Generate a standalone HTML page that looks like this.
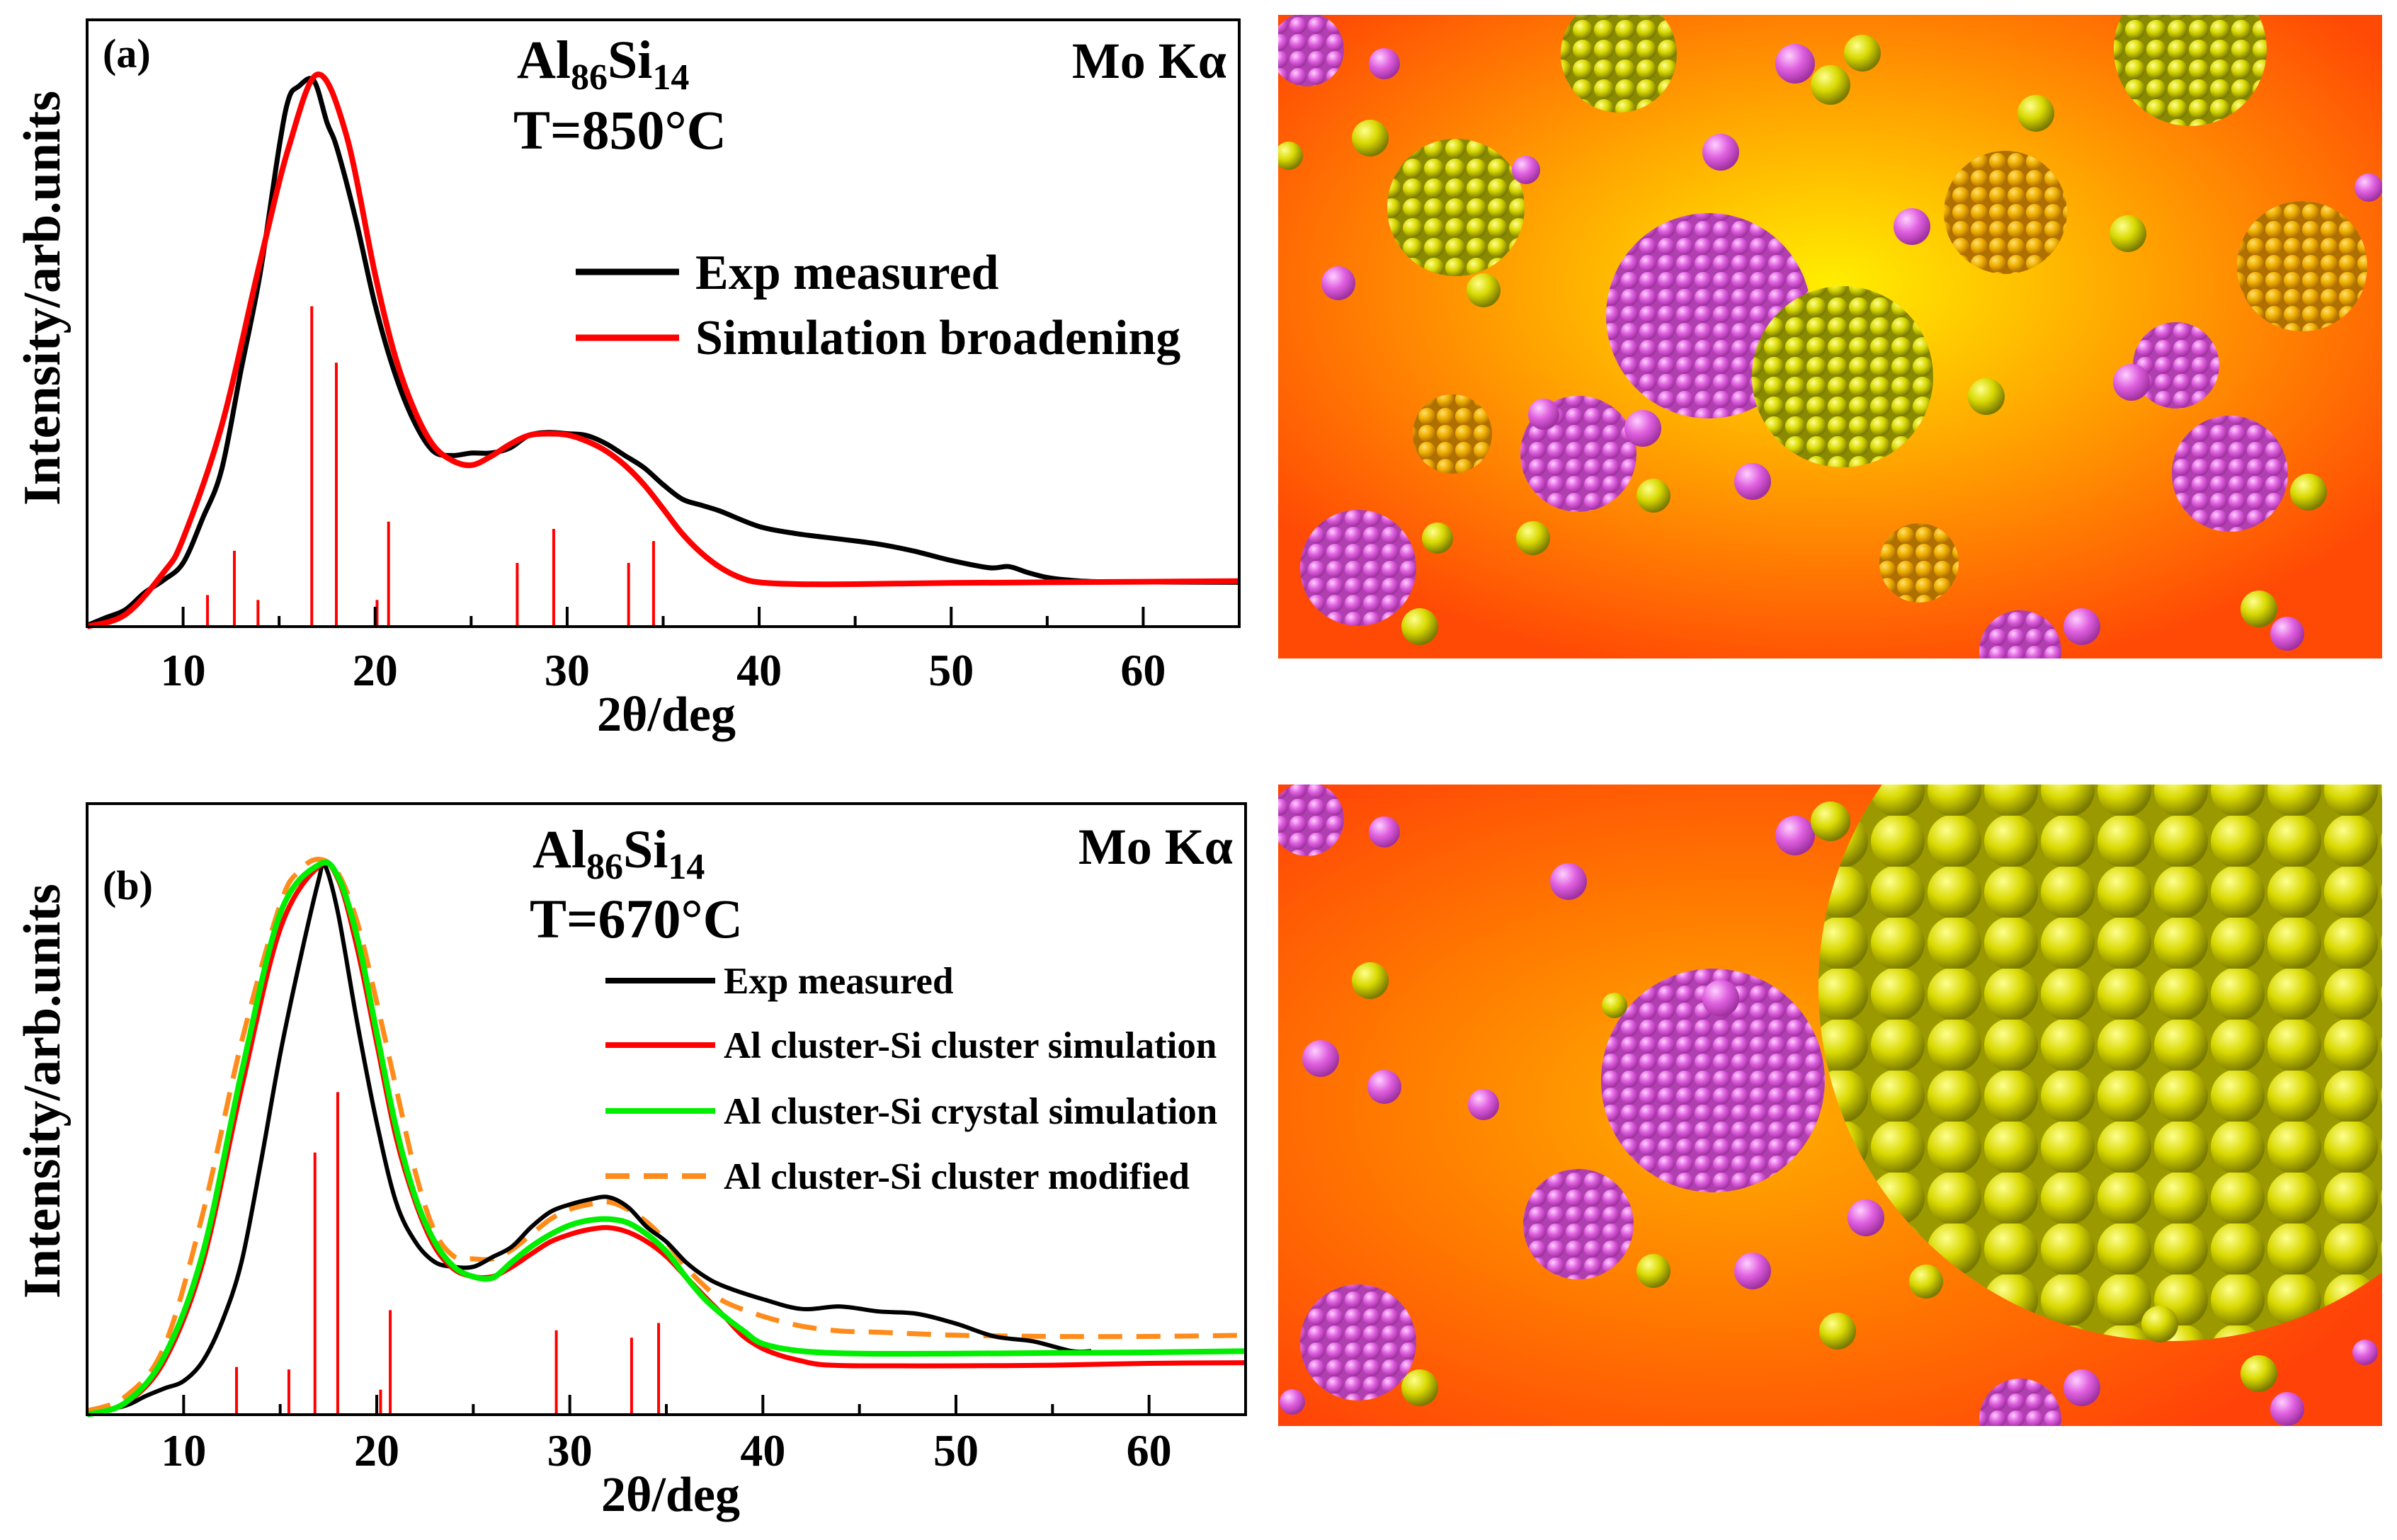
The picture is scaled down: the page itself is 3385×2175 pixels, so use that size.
<!DOCTYPE html>
<html><head><meta charset="utf-8"><style>
html,body{margin:0;padding:0;background:#fff;}
svg{display:block;font-family:"Liberation Serif",serif;font-weight:bold;}
</style></head><body>
<svg id="root" width="3385" height="2175" viewBox="0 0 3385 2175" xmlns="http://www.w3.org/2000/svg">
<defs>
<radialGradient id="bgA" cx="0.5" cy="0.42" r="0.62"><stop offset="0" stop-color="#ffee00"/><stop offset="0.45" stop-color="#ffa500"/><stop offset="1" stop-color="#ff4a05"/></radialGradient>
<radialGradient id="bgB" cx="0.42" cy="0.5" r="0.65"><stop offset="0" stop-color="#ffb000"/><stop offset="0.5" stop-color="#ff7a00"/><stop offset="1" stop-color="#ff4208"/></radialGradient>
<radialGradient id="gP" cx="0.35" cy="0.3" r="0.7"><stop offset="0" stop-color="#ffd0ff"/><stop offset="0.5" stop-color="#e060e0"/><stop offset="1" stop-color="#a030a0"/></radialGradient>
<radialGradient id="gY" cx="0.35" cy="0.3" r="0.7"><stop offset="0" stop-color="#ffff90"/><stop offset="0.5" stop-color="#d8d800"/><stop offset="1" stop-color="#7a7a00"/></radialGradient>
<radialGradient id="gG" cx="0.35" cy="0.3" r="0.7"><stop offset="0" stop-color="#ffe070"/><stop offset="0.5" stop-color="#f0b000"/><stop offset="1" stop-color="#b07000"/></radialGradient>
<pattern id="pP" width="26" height="24" patternUnits="userSpaceOnUse"><rect width="26" height="24" fill="#b040b0"/><circle cx="13" cy="12" r="12" fill="url(#gP)"/></pattern>
<pattern id="pY" width="30" height="28" patternUnits="userSpaceOnUse"><rect width="30" height="28" fill="#8a8a00"/><circle cx="15" cy="14" r="14" fill="url(#gY)"/></pattern>
<pattern id="pG" width="26" height="24" patternUnits="userSpaceOnUse"><rect width="26" height="24" fill="#b07000"/><circle cx="13" cy="12" r="12" fill="url(#gG)"/></pattern>
<pattern id="pBig" width="80" height="72" patternUnits="userSpaceOnUse"><rect width="80" height="72" fill="#9a9a00"/><circle cx="40" cy="36" r="38" fill="url(#gY)"/></pattern>
<clipPath id="clipA"><rect x="1805" y="21" width="1559" height="909"/></clipPath>
<clipPath id="clipB"><rect x="1805" y="1108" width="1559" height="906"/></clipPath>
</defs>
<g id="imgA" clip-path="url(#clipA)"><rect x="1805" y="21" width="1559" height="909" fill="url(#bgA)"/></g>
<g id="imgB" clip-path="url(#clipB)"><rect x="1805" y="1108" width="1559" height="906" fill="url(#bgB)"/></g>
<g id="chartA"></g>
<g id="chartB"></g>
</svg>
<script>
const NS="http://www.w3.org/2000/svg";
// ---- Panel (a) data ----
const aRedX=[5,7,9,10,12,14,15.5,17,18.5,20,21,22,23,24,25,26,27,28,29,30,31,32,33,34,35,36,37,38,39,40,42,45,50,55,60,65];
const aRedY=[0,0.02,0.09,0.145,0.33,0.6,0.79,0.91,0.81,0.58,0.45,0.36,0.30,0.274,0.266,0.28,0.30,0.315,0.318,0.316,0.306,0.29,0.266,0.234,0.194,0.153,0.121,0.097,0.081,0.073,0.07,0.07,0.072,0.073,0.074,0.075];
const aBlkX=[5,6,7,8,9,10,11,12,13,14,15,15.5,16,16.8,17.5,18,19,20,21,22,23,24,25,26,27,28,29,30,31,32,33,34,35,36,37,38,40,42,44,46,48,50,52,53,54,55,56,58,65];
const aBlkY=[0.002,0.015,0.028,0.056,0.077,0.105,0.177,0.258,0.42,0.58,0.79,0.87,0.89,0.90,0.83,0.79,0.67,0.53,0.42,0.34,0.29,0.282,0.286,0.286,0.294,0.315,0.32,0.318,0.315,0.302,0.282,0.262,0.234,0.21,0.2,0.19,0.165,0.153,0.145,0.137,0.125,0.109,0.097,0.099,0.089,0.081,0.077,0.074,0.073];
const aStickX=[11.27,12.67,13.9,16.7,17.98,20.1,20.7,27.4,29.3,33.2,34.5];
const aStickY=[0.052,0.125,0.044,0.528,0.435,0.044,0.173,0.105,0.161,0.105,0.141];
// ---- Panel (b) data ----
const bBlkX=[5,7,8,9,10,11,12,13,14,15,16,17,17.3,18,19,20,21,22,23,24,25,26,27,28,29,30,31,32,33,34,35,36,37,38,40,42,44,46,48,50,52,54,56,57];
const bBlkY=[0,0.015,0.03,0.043,0.055,0.088,0.153,0.25,0.413,0.59,0.74,0.876,0.9,0.82,0.64,0.478,0.348,0.283,0.25,0.242,0.242,0.258,0.275,0.307,0.332,0.344,0.352,0.356,0.34,0.307,0.283,0.25,0.226,0.21,0.189,0.173,0.177,0.169,0.165,0.149,0.128,0.12,0.104,0.104];
const bRedX=[5,7,9,11,13,15,17,18,19,20,21,22,23,24,25,26,27,28,29,30,31,32,33,34,35,36,37,38,39,40,41,42,43,45,50,55,60,65];
const bRedY=[0,0.019,0.088,0.25,0.535,0.795,0.897,0.876,0.762,0.608,0.454,0.348,0.275,0.238,0.226,0.226,0.242,0.263,0.283,0.295,0.303,0.306,0.299,0.283,0.259,0.226,0.193,0.161,0.128,0.108,0.096,0.088,0.082,0.08,0.08,0.081,0.084,0.085];
const bGrnX=[5,7,9,11,13,15,17,18,19,20,21,22,23,24,25,26,27,28,29,30,31,32,33,34,35,36,37,38,39,40,42,45,50,55,60,65];
const bGrnY=[0,0.02,0.096,0.265,0.56,0.82,0.9,0.88,0.78,0.625,0.47,0.356,0.283,0.242,0.226,0.224,0.25,0.275,0.295,0.31,0.318,0.32,0.314,0.295,0.267,0.226,0.189,0.161,0.137,0.116,0.104,0.1,0.1,0.101,0.102,0.104];
const bOrgX=[5,7,9,11,13,15,16,17,18,19,20,21,22,23,24,25,26,27,28,29,30,31,32,33,34,35,36,37,38,40,42,44,46,50,55,60,65];
const bOrgY=[0.006,0.03,0.112,0.33,0.61,0.835,0.89,0.909,0.886,0.805,0.675,0.535,0.397,0.3,0.259,0.255,0.255,0.27,0.295,0.32,0.336,0.344,0.348,0.336,0.315,0.283,0.242,0.21,0.185,0.161,0.145,0.137,0.135,0.13,0.128,0.128,0.13];
const bStickX=[12.74,15.45,16.8,17.98,20.2,20.7,29.3,33.2,34.6];
const bStickY=[0.078,0.074,0.429,0.528,0.041,0.171,0.138,0.126,0.15];
const xTicks=[10,20,30,40,50,60];
const xMinor=[15,25,35,45,55];

function el(tag,attrs,parent){const e=document.createElementNS(NS,tag);for(const k in attrs)e.setAttribute(k,attrs[k]);parent.appendChild(e);return e;}
function smooth(pts){let d="M"+pts[0][0].toFixed(1)+","+pts[0][1].toFixed(1);
 for(let i=0;i<pts.length-1;i++){const p0=pts[Math.max(0,i-1)],p1=pts[i],p2=pts[i+1],p3=pts[Math.min(pts.length-1,i+2)];
  const c1x=p1[0]+(p2[0]-p0[0])/6,c1y=p1[1]+(p2[1]-p0[1])/6,c2x=p2[0]-(p3[0]-p1[0])/6,c2y=p2[1]-(p3[1]-p1[1])/6;
  d+=" C"+c1x.toFixed(1)+","+c1y.toFixed(1)+" "+c2x.toFixed(1)+","+c2y.toFixed(1)+" "+p2[0].toFixed(1)+","+p2[1].toFixed(1);}
 return d;}

function panel(g,cfg){
 const L=cfg.left,R=cfg.right,T=cfg.top,B=cfg.bottom;
 const sx=d=>L+(d-5)*(R-L)/60, sy=v=>B-v*(B-T);
 cfg.sticksX.forEach((x,i)=>{const s=el("line",{x1:sx(x),x2:sx(x),y1:B,y2:sy(cfg.sticksY[i]),stroke:"#ff0000","stroke-width":4},g);
  
  });
 cfg.series.forEach(s=>{const pts=s.x.map((x,i)=>[sx(x),sy(s.y[i])]);
  const p=el("path",{d:smooth(pts),fill:"none",stroke:s.color,"stroke-width":s.w,"stroke-linejoin":"round"},g);
  if(s.dash)p.setAttribute("stroke-dasharray",s.dash);
  
  });
 const fr=el("rect",{x:L,y:T,width:R-L,height:B-T,fill:"none",stroke:"#000","stroke-width":4},g);
 
 
 xTicks.forEach(t=>{const tk=el("line",{x1:sx(t),x2:sx(t),y1:B,y2:B-28,stroke:"#000","stroke-width":4},g);
  
  
  const lb=el("text",{x:sx(t),y:cfg.tickY,"text-anchor":"middle","font-size":64},g);lb.textContent=t;
  
  });
 xMinor.forEach(t=>{const tk=el("line",{x1:sx(t),x2:sx(t),y1:B,y2:B-15,stroke:"#000","stroke-width":4},g);
  
  });
}
const gA=document.getElementById("chartA"),gB=document.getElementById("chartB");
panel(gA,{left:123,right:1750,top:28,bottom:885,tickY:968,sticksX:aStickX,sticksY:aStickY,series:[
 {x:aBlkX,y:aBlkY,color:"#000",w:7,name:"exp-measured-line"},
 {x:aRedX,y:aRedY,color:"#ff0000",w:8,name:"simulation-broadening-line"}]});
panel(gB,{left:123,right:1759,top:1135,bottom:1998,tickY:2070,sticksX:bStickX,sticksY:bStickY,series:[
 {x:bOrgX,y:bOrgY,color:"#ff8c1a",w:7,dash:"34,20",name:"modified-line"},
 {x:bBlkX,y:bBlkY,color:"#000",w:6,name:"exp-measured-line"},
 {x:bRedX,y:bRedY,color:"#ff0000",w:7,name:"cluster-cluster-line"},
 {x:bGrnX,y:bGrnY,color:"#00ee00",w:8,name:"cluster-crystal-line"}]});

const clustA=[[2056,293,97,"pY"],[2286,77,82,"pY"],[3093,70,108,"pY"],[3251,376,92,"pG"],[2832,300,87,"pG"],[3073,516,61,"pP"],[3149,669,82,"pP"],[2229,641,82,"pP"],[2051,613,56,"pG"],[1918,802,82,"pP"],[1846,70,52,"pP"],[2710,795,56,"pG"],[2853,920,58,"pP"],[2413,446,145,"pP"],[2602,532,128,"pY"]];
const clustB=[[3068,1394,500,"pBig"],[2419,1526,158,"pP"],[2229,1729,78,"pP"],[1918,1896,82,"pP"],[1846,1157,52,"pP"],[2853,2005,58,"pP"]];
const dotsA=[[1955,90,22,"gP"],[2155,240,20,"gP"],[1935,195,26,"gY"],[2535,90,28,"gP"],[2585,120,28,"gY"],[2630,75,26,"gY"],[2430,215,26,"gP"],[2700,320,26,"gP"],[2875,160,26,"gY"],[3005,330,26,"gY"],[2095,410,24,"gY"],[1890,400,24,"gP"],[2320,605,26,"gP"],[2335,700,24,"gY"],[2475,680,26,"gP"],[2805,560,26,"gY"],[3010,540,26,"gP"],[3260,695,26,"gY"],[2005,885,26,"gY"],[2940,885,26,"gP"],[3190,860,26,"gY"],[3230,895,24,"gP"],[1820,220,20,"gY"],[3345,265,20,"gP"],[2180,585,22,"gP"],[2030,760,22,"gY"],[2165,760,24,"gY"]];
const dotsB=[[1955,1175,22,"gP"],[2215,1245,26,"gP"],[1935,1385,26,"gY"],[2535,1180,28,"gP"],[2585,1160,28,"gY"],[2430,1410,26,"gP"],[2280,1420,18,"gY"],[1865,1495,26,"gP"],[1955,1535,24,"gP"],[2095,1560,22,"gP"],[2335,1795,24,"gY"],[2475,1795,26,"gP"],[2595,1880,26,"gY"],[2635,1720,26,"gP"],[2720,1810,24,"gY"],[2005,1960,26,"gY"],[2940,1960,26,"gP"],[3190,1940,26,"gY"],[3230,1990,24,"gP"],[1825,1980,18,"gP"],[3050,1870,26,"gY"],[3340,1910,18,"gP"]];
function deco(gid,clusts,dots){const g=document.getElementById(gid);
 clusts.forEach(c=>{const e=el("circle",{cx:c[0],cy:c[1],r:c[2],fill:"url(#"+c[3]+")"},g);
  
  });
 dots.forEach(d=>{const e=el("circle",{cx:d[0],cy:d[1],r:d[2],fill:"url(#"+d[3]+")"},g);
  
  });}
deco("imgA",clustA,dotsA);deco("imgB",clustB,dotsB);
</script>
<script>
const root=document.getElementById("root");
function txt(str,attrs,name){const t=document.createElementNS(NS,"text");for(const k in attrs)t.setAttribute(k,attrs[k]);t.innerHTML=str;root.appendChild(t);
 
 return t;}
txt("(a)",{x:145,y:95,"font-size":58},"panel-label-a");
txt('Al<tspan font-size="52" dy="16">86</tspan><tspan dy="-16">Si</tspan><tspan font-size="52" dy="16">14</tspan>',{x:730,y:110,"font-size":76},"alloy-label-a");
txt("T=850°C",{x:725,y:210,"font-size":78},"temperature-label-a");
txt("Mo Kα",{x:1732,y:110,"font-size":72,"text-anchor":"end"},"radiation-label-a");
txt("Intensity/arb.units",{x:0,y:0,"font-size":74,"text-anchor":"middle",transform:"translate(84,421) rotate(-90)"},"y-axis-title-a");
txt("2θ/deg",{x:941,y:1032,"font-size":70,"text-anchor":"middle"},"x-axis-title-a");
txt("Exp measured",{x:982,y:408,"font-size":70},"legend-exp-a");
txt("Simulation broadening",{x:982,y:500,"font-size":70},"legend-sim-a");
txt("(b)",{x:145,y:1270,"font-size":58},"panel-label-b");
txt('Al<tspan font-size="52" dy="16">86</tspan><tspan dy="-16">Si</tspan><tspan font-size="52" dy="16">14</tspan>',{x:752,y:1225,"font-size":76},"alloy-label-b");
txt("T=670°C",{x:748,y:1324,"font-size":78},"temperature-label-b");
txt("Mo Kα",{x:1741,y:1220,"font-size":72,"text-anchor":"end"},"radiation-label-b");
txt("Intensity/arb.units",{x:0,y:0,"font-size":74,"text-anchor":"middle",transform:"translate(84,1541) rotate(-90)"},"y-axis-title-b");
txt("2θ/deg",{x:947,y:2134,"font-size":70,"text-anchor":"middle"},"x-axis-title-b");
const legB=[["Exp measured",1385,"#000",""],["Al cluster-Si cluster simulation",1476,"#ff0000",""],["Al cluster-Si crystal simulation",1569,"#00ee00",""],["Al cluster-Si cluster modified",1661,"#ff8c1a","34,20"]];
legB.forEach((l,i)=>{const ln=document.createElementNS(NS,"line");
 ln.setAttribute("x1",855);ln.setAttribute("x2",1010);ln.setAttribute("y1",l[1]);ln.setAttribute("y2",l[1]);
 ln.setAttribute("stroke",l[2]);ln.setAttribute("stroke-width",8);if(l[3])ln.setAttribute("stroke-dasharray",l[3]);
 
 
 root.appendChild(ln);
 txt(l[0],{x:1022,y:l[1]+18,"font-size":53},"legend-entry-b");});
[["#000",384],["#ff0000",477]].forEach(l=>{const ln=document.createElementNS(NS,"line");
 ln.setAttribute("x1",813);ln.setAttribute("x2",959);ln.setAttribute("y1",l[1]);ln.setAttribute("y2",l[1]);
 ln.setAttribute("stroke",l[0]);ln.setAttribute("stroke-width",9);
 
 
 root.appendChild(ln);});
</script>
</body></html>
